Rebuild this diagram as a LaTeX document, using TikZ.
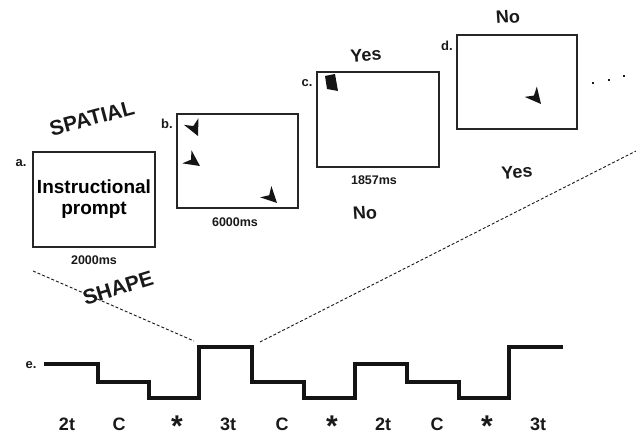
\documentclass[tikz,border=0pt]{standalone}
\usepackage{fontspec}
\setmainfont{Liberation Sans}
\begin{document}
\begin{tikzpicture}[x=1pt,y=-1pt,font=\bfseries,
  frame/.style={draw=black!85,line width=1.2pt,inner sep=0pt,minimum width=#1},
  lbl/.style={font=\bfseries\fontsize{13}{13}\selectfont,text=black!90},
  tlbl/.style={font=\bfseries\fontsize{12.5}{13}\selectfont,text=black!90},
  resp/.style={font=\bfseries\fontsize{18}{18}\selectfont,text=black!90,rotate=4},
  cond/.style={font=\bfseries\fontsize{21}{21}\selectfont,text=black!90},
  seq/.style={font=\bfseries\fontsize{18}{18}\selectfont,text=black!90,anchor=base},
  star/.style={font=\bfseries\fontsize{30}{30}\selectfont,text=black!90,anchor=base},
  guide/.style={draw=black!90,dash pattern=on 3pt off 2pt,line width=0.9pt},
  stepline/.style={draw=black!92,line width=4.5pt,line join=miter},
  dart/.pic={\fill[black!92] (0,0) -- (-16,-8) -- (-11,0) -- (-16,8) -- cycle;}]
\useasboundingbox (0,0) rectangle (636,435);
% boxes
\node[frame=122pt,minimum height=95pt,align=center,font=\bfseries\fontsize{19}{21}\selectfont] (a) at (94,199.5) {Instructional\\prompt};
\node[frame=121pt,minimum height=94pt] (b) at (237.5,161) {};
\node[frame=122pt,minimum height=95pt] (c) at (378,119.5) {};
\node[frame=120pt,minimum height=94pt] (d) at (517,82) {};
% letters
\node[lbl] (la) at (21,163) {a.};
\node[lbl] (lb) at (167,124) {b.};
\node[lbl] (lc) at (307,83) {c.};
\node[lbl] (ld) at (447,46) {d.};
\node[lbl] (le) at (31,365) {e.};
% times
\node[tlbl] (ta) at (94,260) {2000ms};
\node[tlbl] (tb) at (235,222) {6000ms};
\node[tlbl] (tc) at (374,180) {1857ms};
% responses
\node[resp] (ycu) at (366,55) {Yes};
\node[resp] (ncd) at (365,213) {No};
\node[resp] (ndu) at (508,17) {No};
\node[resp] (ydd) at (517,172) {Yes};
% conditions
\node[cond,rotate=15] (sp) at (92,118) {SPATIAL};
\node[cond,rotate=17] (sh) at (118,288) {SHAPE};
% stimuli
\pic[rotate=-65] at (198,136) {dart};
\pic[rotate=-35] at (200,166) {dart};
\pic[rotate=-45] at (277,203) {dart};
\pic[rotate=-50] at (541,104) {dart};
\fill[black!92] (325,76) -- (335,74) -- (338,91) -- (327,89) -- cycle;
% dots
\foreach \px/\py in {593/83,609/80,624/76} \fill[black!90] (\px-1.4,\py-1.4) rectangle (\px+1.4,\py+1.4);
% dashed guides
\coordinate (g1) at (33,271);
\coordinate (g2) at (194,341);
\coordinate (g3) at (260,342);
\coordinate (g4) at (636,151);
\draw[guide] (g1) -- (g2);
\draw[guide] (g3) -- (g4);
% step line
\draw[stepline] (44,364) -| (98,382) -| (149,398) -| (199,347) -| (252,382) -| (304,398) -| (355,364) -| (407,382) -| (459,398) -| (509,347) -- (563,347);
% sequence labels
\node[seq] (s1) at (67,430) {2t};
\node[seq] (s2) at (119,430) {C};
\node[star] (s3) at (177,430) {\raisebox{-0.22em}{*}};
\node[seq] (s4) at (228,430) {3t};
\node[seq] (s5) at (282,430) {C};
\node[star] (s6) at (332,430) {\raisebox{-0.22em}{*}};
\node[seq] (s7) at (383,430) {2t};
\node[seq] (s8) at (437,430) {C};
\node[star] (s9) at (487,430) {\raisebox{-0.22em}{*}};
\node[seq] (s10) at (538,430) {3t};
\end{tikzpicture}
\end{document}
